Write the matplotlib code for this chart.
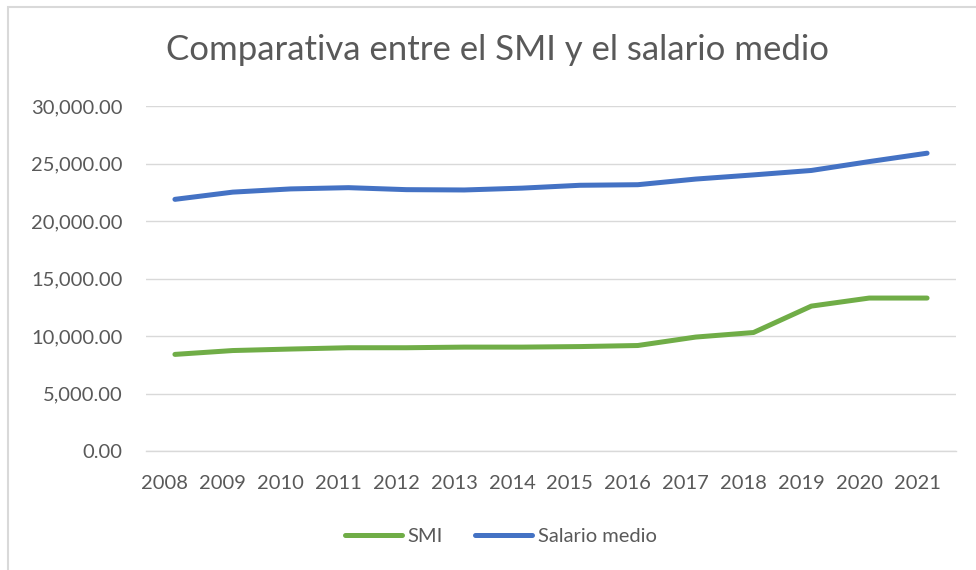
import matplotlib
matplotlib.use('Agg')
import matplotlib.pyplot as plt
import matplotlib.transforms as mtransforms
from matplotlib.patches import Rectangle
from matplotlib.ticker import FuncFormatter

years = ['2008', '2009', '2010', '2011', '2012', '2013', '2014',
         '2015', '2016', '2017', '2018', '2019', '2020', '2021']
smi = [8400, 8736, 8866.2, 8979.6, 8979.6, 9034.2, 9034.2,
       9080.4, 9172.8, 9906.4, 10302.6, 12600, 13300, 13300]
salario_medio = [21883, 22511, 22790, 22899, 22726, 22698, 22858,
                 23106, 23156, 23646, 24009, 24395, 25165, 25896]

plt.rcParams['font.family'] = ['Lato', 'DejaVu Sans']
grey = '#595959'

fig = plt.figure(figsize=(9.76, 5.7), dpi=100)
# chart border (Excel style)
fig.patches.append(Rectangle((8/976, -0.1), 1.2, 1 - 7/570 + 0.1,
                             transform=fig.transFigure, fill=False,
                             edgecolor='#D9D9D9', linewidth=1.5))

ax = fig.add_axes([146/976, 1 - 451/570, 810/976, 345/570])
x = range(len(years))
ax.plot(x, smi, color='#70AD47', linewidth=3.6, solid_capstyle='round', label='SMI')
ax.plot(x, salario_medio, color='#4472C4', linewidth=3.6, solid_capstyle='round',
        label='Salario medio')

ax.set_xlim(-0.5, len(years) - 0.5)
ax.set_ylim(0, 30000)
ax.set_yticks(range(0, 30001, 5000))
ax.yaxis.set_major_formatter(FuncFormatter(lambda v, p: f'{v:,.2f}'))
ax.set_xticks(list(x))
ax.set_xticklabels(years)
ax.grid(axis='y', color='#D9D9D9', linewidth=1)
ax.set_axisbelow(True)
for s in ['top', 'right', 'left']:
    ax.spines[s].set_visible(False)
ax.spines['bottom'].set_color('#D9D9D9')
ax.spines['bottom'].set_linewidth(1)
ax.tick_params(length=0, labelsize=14.5, colors=grey)
ax.tick_params(axis='x', pad=17)
ax.tick_params(axis='y', pad=17)
# excel draws the year labels a bit left of the points
shift = mtransforms.ScaledTranslation(-10/100, 0, fig.dpi_scale_trans)
for lab in ax.get_xticklabels():
    lab.set_transform(lab.get_transform() + shift)

fig.text(497/976, 1 - 50/570, 'Comparativa entre el SMI y el salario medio',
         ha='center', va='center', fontsize=25, color=grey)
fig.legend(loc='center', bbox_to_anchor=(501/976, 1 - 536/570), ncol=2,
           frameon=False, fontsize=14.5, labelcolor=grey, handlelength=2.8,
           handletextpad=0.3, columnspacing=1.6)

fig.savefig('out.png', dpi=100)
